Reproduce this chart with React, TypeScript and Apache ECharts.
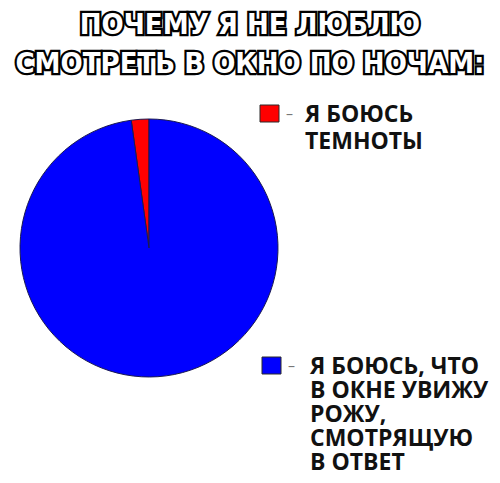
import React, { useEffect, useRef } from "react";
import * as echarts from "echarts";

const titleLines = ["ПОЧЕМУ Я НЕ ЛЮБЛЮ", "СМОТРЕТЬ В ОКНО ПО НОЧАМ:"];
const answers = ["Я БОЮСЬ\nТЕМНОТЫ", "Я БОЮСЬ, ЧТО\nВ ОКНЕ УВИЖУ\nРОЖУ,\nСМОТРЯЩУЮ\nВ ОТВЕТ"];
const shares = [2.2, 97.8];
const sliceColors = ["#ff0000", "#0000ff"];

// legend layout: square position, text position, line height
const keyX = [260, 262];
const keyY = [105, 357];
const labelX = [305, 310];
const labelY = [99, 352.5];
const labelLine = [27, 24];

function App() {
  const chartRef = useRef<HTMLDivElement>(null);

  useEffect(() => {
    if (!chartRef.current) return;
    const chart = echarts.init(chartRef.current, undefined, { renderer: "svg" });

    const legendItems: any[] = [];
    answers.forEach((label, i) => {
      legendItems.push({
        type: "rect",
        shape: { x: keyX[i], y: keyY[i], width: 19, height: 17 },
        style: { fill: sliceColors[i], stroke: "#2a2a2a", lineWidth: 1 },
      });
      legendItems.push({
        type: "text",
        x: keyX[i] + 26,
        y: keyY[i] + 1,
        style: {
          text: "–",
          font: "14px 'Open Sans'",
          fill: "#777",
        },
      });
      legendItems.push({
        type: "text",
        x: labelX[i],
        y: labelY[i],
        style: {
          text: label,
          font: "bold 23px 'Open Sans'",
          lineHeight: labelLine[i],
          fill: "#111",
        },
      });
    });

    const options: echarts.EChartsOption = {
      animation: false,
      backgroundColor: "#fff",
      title: {
        text: titleLines.join("\n"),
        left: "center",
        top: 0,
        textStyle: {
          fontFamily: "'DejaVu Sans Condensed', 'DejaVu Sans'",
          fontSize: 29,
          fontWeight: "bold",
          lineHeight: 38.5,
          color: "#fff",
          textBorderColor: "#000",
          textBorderWidth: 4.5,
        },
      },
      series: [
        {
          type: "pie",
          center: [149, 248],
          radius: 129,
          startAngle: 90,
          clockwise: false,
          label: { show: false },
          labelLine: { show: false },
          emphasis: { disabled: true },
          itemStyle: { borderColor: "#1a1a50", borderWidth: 1 },
          data: answers.map((name, i) => ({
            name,
            value: shares[i],
            itemStyle: { color: sliceColors[i] },
          })),
        },
      ],
      graphic: legendItems,
    };
    chart.setOption(options);
    return () => {
      chart.dispose();
    };
  }, []);

  return (
    <div
      ref={chartRef}
      style={{ position: "absolute", left: 0, top: 0, width: "500px", height: "483px" }}
    />
  );
}

export default App;
